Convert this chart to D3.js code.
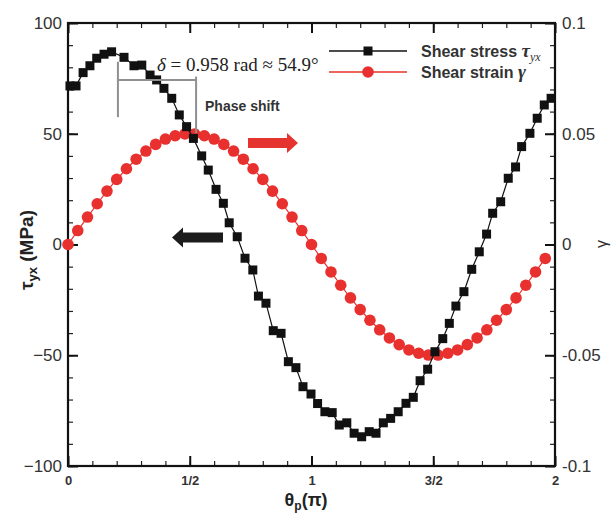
<!DOCTYPE html>
<html><head><meta charset="utf-8">
<script src="https://cdn.jsdelivr.net/npm/d3@7"></script>
<style>body{margin:0;background:#fff}svg{display:block}</style>
</head><body>
<svg id="c" width="615" height="513"></svg>
<script>
// ---- data ----
const strainTheta = [0,0.04,0.08,0.12,0.16,0.2,0.24,0.28,0.32,0.36,0.4,0.44,0.48,0.52,0.56,0.6,0.64,0.68,0.72,0.76,0.8,0.84,0.88,0.92,0.96,1.0,1.04,1.08,1.12,1.16,1.2,1.24,1.28,1.32,1.36,1.4,1.44,1.48,1.52,1.56,1.6,1.64,1.68,1.72,1.76,1.8,1.84,1.88,1.92,1.96];
const strainValues = [0,0.0063,0.0124,0.0184,0.0241,0.0294,0.0342,0.0385,0.0422,0.0452,0.0476,0.0491,0.0499,0.0499,0.0491,0.0476,0.0452,0.0422,0.0385,0.0342,0.0294,0.0241,0.0184,0.0124,0.0063,0,-0.0063,-0.0124,-0.0184,-0.0241,-0.0294,-0.0342,-0.0385,-0.0422,-0.0452,-0.0476,-0.0491,-0.0499,-0.0499,-0.0491,-0.0476,-0.0452,-0.0422,-0.0385,-0.0342,-0.0294,-0.0241,-0.0184,-0.0124,-0.0063];
const stressTheta = [0.008,0.033,0.062,0.090,0.118,0.148,0.179,0.230,0.271,0.303,0.337,0.364,0.394,0.426,0.457,0.487,0.515,0.549,0.576,0.608,0.638,0.662,0.695,0.727,0.759,0.782,0.813,0.843,0.875,0.905,0.936,0.965,0.998,1.025,1.055,1.085,1.114,1.145,1.175,1.206,1.237,1.265,1.295,1.325,1.356,1.388,1.418,1.446,1.477,1.507,1.539,1.566,1.593,1.626,1.658,1.689,1.719,1.744,1.777,1.808,1.838,1.863,1.897,1.927,1.956,1.984];
const stressValues = [71.6,71.6,77.6,80.7,84.1,85.9,87.0,84.5,80.7,81.0,76.5,74.3,70.5,66.0,58.5,53.2,47.9,40.0,33.6,24.9,18.6,9.8,3.5,-6.2,-11.5,-23.3,-26.5,-38.9,-40.1,-52.9,-55.6,-64.2,-67.5,-71.8,-75.5,-75.9,-81.5,-80.5,-85.2,-86.8,-84.5,-85.2,-80.5,-78.5,-75.5,-71.7,-69.0,-61.5,-56.3,-48.4,-42.5,-35.6,-27.8,-21.3,-11.2,-3.3,4.7,14.1,19.3,29.9,35.0,44.2,50.2,57.0,63.0,66.0];
const xTickValues = [0,0.5,1,1.5,2];
const xTickLabels = ["0","1/2","1","3/2","2"];
const leftTickValues = [-100,-50,0,50,100];
const rightTickValues = [-0.1,-0.05,0,0.05,0.1];
const rightTickLabels = ["-0.1","-0.05","0","0.05","0.1"];
const seriesNames = ["Shear stress ","Shear strain "];

// ---- layout ----
const L = 68, R = 555, T = 23, B = 466;
const RED = "#e8302e", BLK = "#111";
const svg = d3.select("#c");
const x = d3.scaleLinear().domain([0,2]).range([L,R]);
const yL = d3.scaleLinear().domain([-100,100]).range([B,T]);
const yR = d3.scaleLinear().domain([-0.1,0.1]).range([B,T]);

function styleAxis(g, font){
  g.select(".domain").remove();
  g.selectAll(".tick line").attr("stroke","#111").attr("stroke-width",2);
  g.selectAll(".tick text").attr("fill","#333").style("font",font);
}
function minor(g){
  g.select(".domain").remove();
  g.selectAll(".tick line").attr("stroke","#222").attr("stroke-width",1.2);
}
const minorX = d3.range(0,21).map(i=>i/10);
const minorY = d3.range(0,21).map(i=>-100+i*10);
const minorYR = d3.range(0,21).map(i=>-0.1+i*0.01);

// bottom
svg.append("g").attr("transform",`translate(0,${B})`)
  .call(d3.axisBottom(x).tickValues(minorX).tickFormat("").tickSizeInner(-5).tickSizeOuter(0)).call(minor);
svg.append("g").attr("transform",`translate(0,${B})`)
  .call(d3.axisBottom(x).tickValues(xTickValues).tickFormat((d,i)=>xTickLabels[i]).tickSizeInner(-10).tickSizeOuter(0).tickPadding(10))
  .call(g=>styleAxis(g,"bold 13px Arial, 'Liberation Sans', sans-serif"));
// top
svg.append("g").attr("transform",`translate(0,${T})`)
  .call(d3.axisTop(x).tickValues(minorX).tickFormat("").tickSizeInner(-5).tickSizeOuter(0)).call(minor);
svg.append("g").attr("transform",`translate(0,${T})`)
  .call(d3.axisTop(x).tickValues(xTickValues).tickFormat("").tickSizeInner(-10).tickSizeOuter(0))
  .call(g=>styleAxis(g,"13px Arial"));
// left
svg.append("g").attr("transform",`translate(${L},0)`)
  .call(d3.axisLeft(yL).tickValues(minorY).tickFormat("").tickSizeInner(-5).tickSizeOuter(0)).call(minor);
svg.append("g").attr("transform",`translate(${L},0)`)
  .call(d3.axisLeft(yL).tickValues(leftTickValues).tickFormat(d3.format("d")).tickSizeInner(-10).tickSizeOuter(0).tickPadding(6))
  .call(g=>styleAxis(g,"17px Arial, 'Liberation Sans', sans-serif"));
// right
svg.append("g").attr("transform",`translate(${R},0)`)
  .call(d3.axisRight(yR).tickValues(minorYR).tickFormat("").tickSizeInner(-5).tickSizeOuter(0)).call(minor);
svg.append("g").attr("transform",`translate(${R},0)`)
  .call(d3.axisRight(yR).tickValues(rightTickValues).tickFormat((d,i)=>rightTickLabels[i]).tickSizeInner(-10).tickSizeOuter(0).tickPadding(7))
  .call(g=>styleAxis(g,"17px Arial, 'Liberation Sans', sans-serif"));

// frame
svg.append("rect").attr("x",L).attr("y",T).attr("width",R-L).attr("height",B-T)
  .attr("fill","none").attr("stroke","#111").attr("stroke-width",2.2);

// ---- series ----
const strain = strainTheta.map((t,i)=>({t,v:strainValues[i]}));
const stress = stressTheta.map((t,i)=>({t,v:stressValues[i]}));

svg.append("path").datum(strain)
  .attr("d",d3.line().x(d=>x(d.t)).y(d=>yR(d.v)))
  .attr("fill","none").attr("stroke",RED).attr("stroke-width",1.2);
svg.append("g").selectAll("circle").data(strain).join("circle")
  .attr("cx",d=>x(d.t)).attr("cy",d=>yR(d.v)).attr("r",5.8).attr("fill",RED);

svg.append("path").datum(stress)
  .attr("d",d3.line().x(d=>x(d.t)).y(d=>yL(d.v)))
  .attr("fill","none").attr("stroke",BLK).attr("stroke-width",1.2);
svg.append("g").selectAll("rect").data(stress).join("rect")
  .attr("x",d=>x(d.t)-4.5).attr("y",d=>yL(d.v)-4.5).attr("width",9).attr("height",9).attr("fill",BLK);

// ---- phase shift annotation ----
const gray = "#909090";
const ann = svg.append("g").attr("stroke",gray).attr("stroke-width",2);
ann.append("line").attr("x1",x(0.205)).attr("x2",x(0.205)).attr("y1",yL(82.5)).attr("y2",yL(57.5));
ann.append("line").attr("x1",x(0.205)).attr("x2",x(0.526)).attr("y1",yL(74.3)).attr("y2",yL(74.3));
ann.append("line").attr("x1",x(0.526)).attr("x2",x(0.526)).attr("y1",yL(75.8)).attr("y2",yL(50.3));

const dt = svg.append("text").attr("x",157).attr("y",71)
  .style("font","19px 'Times New Roman', 'Liberation Serif', serif").attr("fill","#222");
dt.append("tspan").style("font-style","italic").text("δ");
dt.append("tspan").text(" = 0.958 rad ≈ 54.9°");

svg.append("text").attr("x",205).attr("y",111).attr("fill","#333")
  .style("font","bold 14px Arial, 'Liberation Sans', sans-serif").text("Phase shift");

// ---- direction arrows ----
function arrow(x0, x1, yc, color){
  const dir = Math.sign(x1-x0), head = 11;
  const hb = x1 - dir*head;
  const pts = [[x0,yc-5],[hb,yc-5],[hb,yc-10],[x1,yc],[hb,yc+10],[hb,yc+5],[x0,yc+5]];
  svg.append("polygon").attr("points",pts.map(p=>p.join(",")).join(" ")).attr("fill",color);
}
arrow(248, 298, 143, "#e5332f");
arrow(223, 172, 237.5, "#1c1c1c");

// ---- legend ----
const lg = svg.append("g");
const legRows = [{y:51,color:BLK,shape:"sq"},{y:72,color:RED,shape:"ci"}];
legRows.forEach((r,i)=>{
  lg.append("line").attr("x1",329).attr("x2",407).attr("y1",r.y).attr("y2",r.y)
    .attr("stroke",r.color).attr("stroke-width",1.5);
  if(r.shape==="sq") lg.append("rect").attr("x",363.5).attr("y",r.y-4.5).attr("width",9).attr("height",9).attr("fill",r.color);
  else lg.append("circle").attr("cx",368).attr("cy",r.y).attr("r",5.8).attr("fill",r.color);
  const t = lg.append("text").attr("x",421).attr("y",r.y+6).attr("fill","#333")
    .style("font","bold 16px Arial, 'Liberation Sans', sans-serif");
  t.append("tspan").text(seriesNames[i]);
  if(i===0){
    t.append("tspan").style("font","italic bold 19px 'Times New Roman','Liberation Serif',serif").text("τ");
    t.append("tspan").attr("dy",4).style("font","italic 12px 'Times New Roman','Liberation Serif',serif").text("yx");
  } else {
    t.append("tspan").style("font","italic bold 19px 'Times New Roman','Liberation Serif',serif").text("γ");
  }
});

// ---- axis titles ----
const yt = svg.append("text").attr("transform","translate(33,250) rotate(-90)").attr("text-anchor","middle")
  .attr("fill","#222").style("font","bold 19px Arial, 'Liberation Sans', sans-serif");
yt.append("tspan").text("τ");
yt.append("tspan").attr("dy",4).style("font-size","13px").text("yx");
yt.append("tspan").attr("dy",-4).text(" (MPa)");

svg.append("text").attr("transform","translate(607,244) rotate(-90)").attr("text-anchor","middle")
  .attr("fill","#333").style("font","16px Arial, 'Liberation Sans', sans-serif").text("γ");

const xt = svg.append("text").attr("x",306).attr("y",506).attr("text-anchor","middle")
  .attr("fill","#222").style("font","bold 18px Arial, 'Liberation Sans', sans-serif");
xt.append("tspan").text("θ");
xt.append("tspan").attr("dy",4).style("font-size","12px").text("p");
xt.append("tspan").attr("dy",-4).text("(π)");
</script>
</body></html>
